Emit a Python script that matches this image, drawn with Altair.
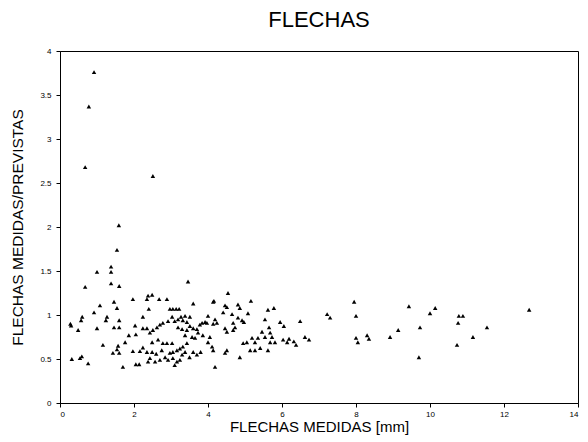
import altair as alt
import pandas as pd

# Measured deflection (mm) and ratio measured / predicted
flecha_medida = [
    0.92, 0.78, 0.68, 2.51, 1.59, 1.54, 1.00, 1.38, 1.38, 0.68,
    1.38, 1.60, 1.08, 1.46, 1.54, 0.92, 0.30, 0.28, 0.57, 0.60,
    0.49, 1.00, 1.24, 1.27, 1.60, 1.46, 1.60, 1.16, 1.57, 1.54,
    1.43, 1.60, 1.76, 1.86, 2.05, 2.03, 1.97, 2.16, 2.24, 0.32,
    0.54, 0.59, 0.76, 1.70, 2.05, 2.14, 2.38, 1.97, 2.35, 2.38,
    2.24, 2.40, 2.24, 2.35,
    3.46, 2.49, 2.68, 2.89, 2.97, 3.05, 3.14, 3.22, 3.60, 4.16,
    4.14, 2.43, 2.51, 2.62, 2.70, 2.78, 2.92, 3.03, 3.10, 3.19,
    3.27, 3.32, 3.43, 3.51, 3.38, 4.00, 4.19, 4.14, 3.97, 3.19,
    3.30, 3.43, 3.51, 3.60, 3.70, 3.78, 3.84, 3.92, 2.49, 2.65,
    2.78, 2.89, 3.03, 3.38, 3.57, 3.65, 3.73, 3.43, 3.32, 3.24,
    3.16, 3.05, 2.97, 2.84, 2.70, 2.57, 2.43, 2.35, 2.49, 2.92,
    3.05, 3.16, 3.24, 3.30, 3.38, 4.00, 4.11, 4.14, 4.05, 3.86,
    4.19, 3.60, 3.70, 3.80, 3.50, 3.10, 2.60, 2.75,
    4.54, 4.46, 4.51, 4.81, 4.86, 5.16, 4.41, 4.65, 5.08, 4.81,
    4.92, 4.97, 4.68, 4.73, 4.68, 4.46, 4.51, 4.24, 5.62, 5.78,
    5.54, 5.95, 6.05, 5.65, 5.46, 5.68, 5.73, 5.81, 5.68, 6.03,
    6.14, 5.54, 5.35, 5.19, 5.05, 4.95, 5.27, 5.62, 5.41, 5.27,
    5.14, 4.51, 4.46, 4.86, 6.19, 6.32, 6.38, 6.62, 6.73, 6.49,
    7.22, 7.30, 7.95, 8.00, 8.00, 8.05, 8.30, 8.35, 8.92, 9.14,
    9.43, 10.14, 10.00, 10.78, 10.89, 10.76, 11.54, 12.68, 9.73, 11.16,
    10.73, 9.70,
]

ratio_medida_prevista = [
    3.76, 3.37, 2.68, 2.58, 2.02, 1.74, 1.49, 1.55, 1.49, 1.32,
    1.36, 1.33, 1.11, 1.15, 1.08, 1.03, 0.88, 0.90, 0.94, 0.98,
    0.83, 0.85, 0.94, 0.98, 0.94, 0.86, 0.86, 0.66, 0.65, 0.61,
    0.57, 0.57, 0.69, 0.77, 0.78, 0.88, 0.59, 0.59, 0.63, 0.50,
    0.51, 0.53, 0.45, 0.41, 0.44, 0.44, 0.47, 1.18, 1.18, 1.22,
    0.98, 1.07, 0.85, 0.85,
    1.38, 1.23, 1.18, 1.18, 1.07, 1.07, 1.07, 1.07, 1.13, 1.16,
    1.15, 0.80, 0.83, 0.86, 0.89, 0.91, 0.93, 0.98, 0.93, 0.95,
    0.98, 0.94, 0.92, 0.98, 0.99, 0.99, 0.95, 0.90, 0.91, 0.86,
    0.84, 0.83, 0.875, 0.85, 0.84, 0.89, 0.91, 0.92, 0.69, 0.72,
    0.68, 0.68, 0.68, 0.77, 0.75, 0.74, 0.80, 0.68, 0.64, 0.62,
    0.60, 0.58, 0.57, 0.52, 0.49, 0.47, 0.51, 0.58, 0.58, 0.49,
    0.51, 0.47, 0.49, 0.55, 0.58, 0.69, 0.64, 0.60, 0.75, 0.77,
    0.41, 0.58, 0.55, 0.58, 0.52, 0.43, 0.56, 0.60,
    1.25, 1.11, 1.09, 1.12, 1.08, 1.16, 1.03, 1.01, 1.02, 0.97,
    0.94, 0.92, 0.91, 0.86, 0.83, 0.85, 0.81, 0.91, 1.06, 1.08,
    0.95, 0.92, 0.875, 0.86, 0.81, 0.80, 0.75, 0.69, 0.69, 0.72,
    0.69, 0.75, 0.74, 0.74, 0.69, 0.68, 0.69, 0.60, 0.625, 0.60,
    0.60, 0.60, 0.57, 0.52, 0.73, 0.70, 0.66, 0.75, 0.72, 0.93,
    1.01, 0.97, 1.15, 0.99, 0.74, 0.69, 0.77, 0.73, 0.75, 0.83,
    1.10, 1.08, 1.02, 0.99, 0.99, 0.91, 0.86, 1.06, 0.86, 0.75,
    0.66, 0.52,
]

x_ticks = [0, 2, 4, 6, 8, 10, 12, 14]
y_ticks = [0, 0.5, 1, 1.5, 2, 2.5, 3, 3.5, 4]

df = pd.DataFrame({"medida": flecha_medida, "ratio": ratio_medida_prevista})

FONT = "Liberation Sans"

chart = (
    alt.Chart(df)
    .mark_point(shape="triangle-up", filled=True, size=20, color="black", opacity=1)
    .encode(
        x=alt.X(
            "medida:Q",
            scale=alt.Scale(domain=[0, 14], nice=False, zero=False),
            axis=alt.Axis(
                title="FLECHAS MEDIDAS [mm]",
                values=x_ticks,
                format="~g",
                grid=False,
                tickSize=4,
                labelPadding=3,
                labelFontSize=8,
                titleFontSize=15,
                titleFontWeight="normal",
                titleBaseline="alphabetic",
                titleY=28,
            ),
        ),
        y=alt.Y(
            "ratio:Q",
            scale=alt.Scale(domain=[0, 4], nice=False, zero=False),
            axis=alt.Axis(
                title="FLECHAS MEDIDAS/PREVISTAS",
                values=y_ticks,
                format="~g",
                grid=False,
                tickSize=4,
                labelPadding=5,
                labelFontSize=8,
                titleFontSize=15.5,
                titleFontWeight="normal",
                titleAngle=-90,
                titleAlign="center",
                titleBaseline="alphabetic",
                titleX=-38,
                titleY=176,
            ),
        ),
    )
    .properties(
        width=518,
        height=352,
        title=alt.TitleParams(
            "FLECHAS",
            fontSize=22,
            fontWeight="normal",
            font=FONT,
            anchor="middle",
            baseline="alphabetic",
            offset=0,
            dy=2,
            color="black",
        ),
        autosize=alt.AutoSizeParams(type="none"),
        padding={"left": 60, "top": 51, "right": 10, "bottom": 39},
    )
    .configure(font=FONT, background="white")
    .configure_axis(
        domainColor="black",
        tickColor="black",
        labelColor="black",
        titleColor="black",
        labelFont=FONT,
        titleFont=FONT,
    )
    .configure_view(stroke="black", strokeWidth=1)
)

chart.save("out.html", embed_options={"renderer": "svg", "actions": False})
